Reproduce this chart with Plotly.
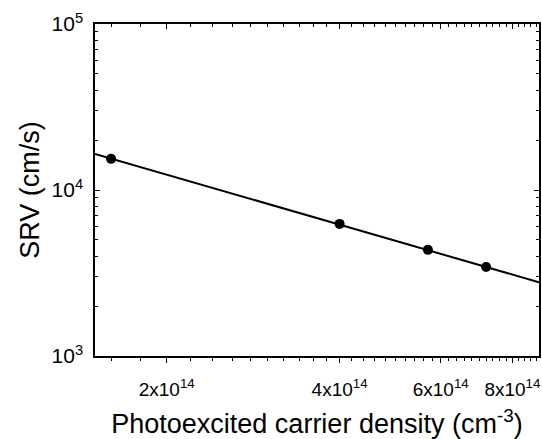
import numpy as np
import plotly.graph_objects as go

# Data
density = [1.6e14, 4.0e14, 5.7e14, 7.2e14]          # cm^-3
srv = [1.54e4, 6.25e3, 4.36e3, 3.44e3]              # cm/s
fit_density = [1.5e14, 8.9e14]
fit_srv = [1.65e4, 2.78e3]

x_tickvals = [2e14, 4e14, 6e14, 8e14]
x_ticktext = ["2x10<sup>14</sup>", "4x10<sup>14</sup>", "6x10<sup>14</sup>", "8x10<sup>14</sup>"]
y_tickvals = [1e3, 1e4, 1e5]
y_ticktext = ["10<sup>3</sup>", "10<sup>4</sup>", "10<sup>5</sup>"]

xr = [np.log10(1.5e14), np.log10(8.9e14)]
yr = [3, 5]

x_minor = [v for v in np.arange(1.6e14, 8.9e14, 2e13) if all(abs(v - t) > 1e12 for t in x_tickvals)]
y_minor = [m * 10 ** e for e in (3, 4) for m in range(2, 10)]

font = "Liberation Sans, Arial, sans-serif"

fig = go.Figure()
fig.add_trace(go.Scatter(x=fit_density, y=fit_srv, mode="lines",
                         line=dict(color="black", width=2), showlegend=False))
fig.add_trace(go.Scatter(x=density, y=srv, mode="markers",
                         marker=dict(color="black", size=10), showlegend=False))
# invisible trace for top axis
fig.add_trace(go.Scatter(x=fit_density, y=fit_srv, mode="lines", xaxis="x2",
                         line=dict(color="rgba(0,0,0,0)"), showlegend=False, hoverinfo="skip"))

fig.update_layout(
    width=542, height=439,
    margin=dict(l=95, r=3, t=24, b=83),
    paper_bgcolor="white", plot_bgcolor="white",
    font=dict(family=font, color="black"),
    xaxis=dict(
        type="log", range=xr, showgrid=False, zeroline=False, automargin=False,
        showline=True, linecolor="black", linewidth=1.5, mirror=True,
        ticks="outside", ticklen=5, tickwidth=1.2, tickcolor="black",
        tickmode="array", tickvals=x_tickvals, ticktext=x_ticktext,
        tickfont=dict(size=19), ticklabelstandoff=10,
        minor=dict(tickmode="array", tickvals=x_minor, ticks="outside",
                   ticklen=3, tickwidth=1, tickcolor="black", showgrid=False),
        title=dict(text="Photoexcited carrier density (cm<sup>-3</sup>)",
                   font=dict(size=27), standoff=20),
    ),
    xaxis2=dict(
        type="log", range=xr, overlaying="x", side="top", anchor="y",
        showgrid=False, zeroline=False, showline=False, automargin=False,
        ticks="inside", ticklen=5, tickwidth=1.2, tickcolor="black",
        tickmode="array", tickvals=x_tickvals, showticklabels=False,
        minor=dict(tickmode="array", tickvals=x_minor, ticks="inside",
                   ticklen=3, tickwidth=1, tickcolor="black", showgrid=False),
    ),
    yaxis=dict(
        type="log", range=yr, showgrid=False, zeroline=False, automargin=False,
        showline=True, linecolor="black", linewidth=1.5, mirror="ticks",
        ticks="inside", ticklen=5, tickwidth=1.2, tickcolor="black",
        tickmode="array", tickvals=y_tickvals, ticktext=y_ticktext,
        tickfont=dict(size=21), ticklabelstandoff=6,
        minor=dict(tickmode="array", tickvals=y_minor, ticks="inside",
                   ticklen=3, tickwidth=1, tickcolor="black", showgrid=False),
        title=dict(text="SRV (cm/s)", font=dict(size=27), standoff=4),
    ),
)

fig.write_html("out.html")
